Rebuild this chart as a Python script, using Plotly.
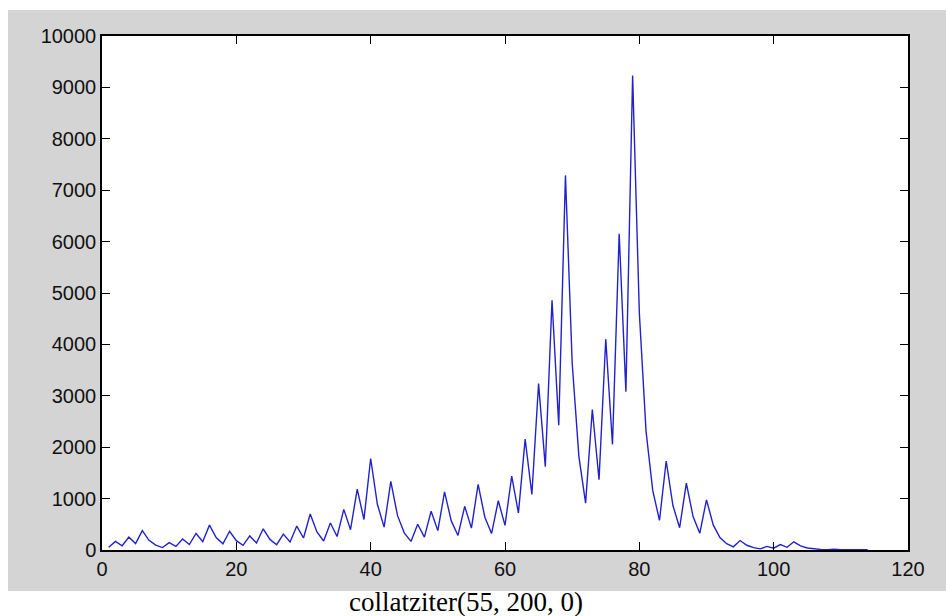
import plotly.graph_objects as go

step = list(range(1, 115))
value = [55, 166, 83, 250, 125, 376, 188, 94, 47, 142, 71, 214, 107, 322, 161, 484, 242, 121, 364, 182,
         91, 274, 137, 412, 206, 103, 310, 155, 466, 233, 700, 350, 175, 526, 263, 790, 395, 1186, 593, 1780,
         890, 445, 1336, 668, 334, 167, 502, 251, 754, 377, 1132, 566, 283, 850, 425, 1276, 638, 319, 958, 479,
         1438, 719, 2158, 1079, 3238, 1619, 4858, 2429, 7288, 3644, 1822, 911, 2734, 1367, 4102, 2051, 6154, 3077, 9232, 4616,
         2308, 1154, 577, 1732, 866, 433, 1300, 650, 325, 976, 488, 244, 122, 61, 184, 92, 46, 23, 70, 35,
         106, 53, 160, 80, 40, 20, 10, 5, 16, 8, 4, 2, 1, 4]
x_ticks = [0, 20, 40, 60, 80, 100, 120]
y_ticks = [0, 1000, 2000, 3000, 4000, 5000, 6000, 7000, 8000, 9000, 10000]
caption = "collatziter(55, 200, 0)"

W, H = 946, 616
L, R, T, B = 102, 38, 36, 66
pw, ph = W - L - R, H - T - B

def px(x):
    return (x - L) / pw

def py(y):
    return (H - B - y) / ph

fig = go.Figure()
fig.add_trace(go.Scatter(x=step, y=value, mode="lines",
                         line=dict(color="#2222cc", width=1.4), showlegend=False))

axis_common = dict(showline=True, linecolor="black", linewidth=1.5, mirror="ticks",
                   ticks="inside", ticklen=8, tickwidth=1.3, tickcolor="black",
                   showgrid=False, zeroline=False,
                   tickfont=dict(family="Liberation Sans, Arial", size=20, color="#111111"))

fig.update_xaxes(range=[0, 120], tickvals=x_ticks, ticktext=[str(v) for v in x_ticks], **axis_common)
fig.update_yaxes(range=[0, 10000], tickvals=y_ticks, ticktext=[str(v) for v in y_ticks],
                 ticklabelstandoff=0, **axis_common)

white_strips = [
    (0, 0, W, 10),      # top
    (0, 0, 8, H),       # left
    (0, 591, W, H),     # bottom
]
shapes = []
for x0, y0, x1, y1 in white_strips:
    shapes.append(dict(type="rect", xref="paper", yref="paper",
                       x0=px(x0), x1=px(x1), y0=py(y1), y1=py(y0),
                       fillcolor="white", line=dict(width=0), layer="below"))

fig.update_layout(
    width=W, height=H,
    margin=dict(l=L, r=R, t=T, b=B),
    paper_bgcolor="#d4d4d4",
    plot_bgcolor="white",
    shapes=shapes,
    annotations=[dict(text=caption, xref="paper", yref="paper",
                      x=px(466), y=py(602), xanchor="center", yanchor="middle",
                      showarrow=False,
                      font=dict(family="Liberation Serif, Times New Roman", size=27, color="black"))],
)

fig.write_html("out.html")
